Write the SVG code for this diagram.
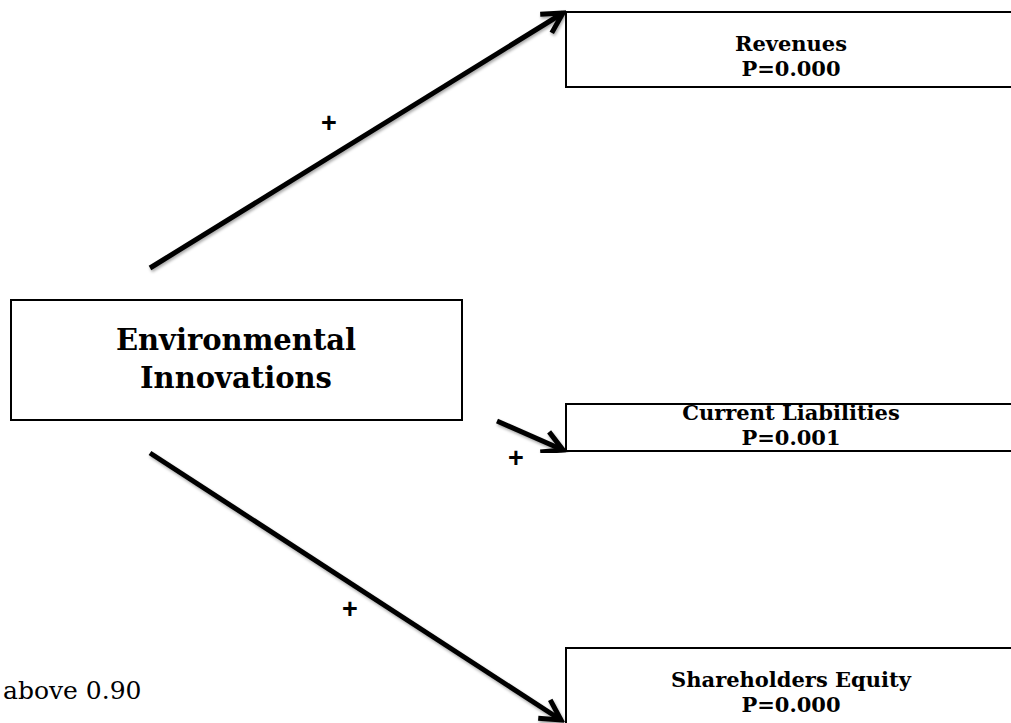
<svg xmlns="http://www.w3.org/2000/svg" width="1011" height="723" viewBox="0 0 1011 723">
  <style>
    .box { fill: #ffffff; stroke: #000000; stroke-width: 2; }
    .lbl { font-family: "DejaVu Serif", "Liberation Serif", serif; font-weight: bold; font-size: 21px; fill: #000000; text-anchor: middle; }
    .title { font-family: "DejaVu Serif", "Liberation Serif", serif; font-weight: bold; font-size: 29px; fill: #000000; text-anchor: middle; }
    .sign { font-family: "Liberation Sans", Arial, sans-serif; font-weight: bold; font-size: 27px; fill: #000000; text-anchor: middle; }
    .note { font-family: "DejaVu Serif", "Liberation Serif", serif; font-size: 25px; fill: #000000; }
    .edge { fill: none; stroke: #000000; stroke-width: 5; marker-end: url(#head); filter: url(#shadow); }
  </style>
  <defs>
    <filter id="shadow" x="-10%" y="-10%" width="120%" height="120%">
      <feDropShadow dx="1" dy="2" stdDeviation="1.5" flood-color="#000000" flood-opacity="0.35"/>
    </filter>
    <marker id="head" markerUnits="userSpaceOnUse" viewBox="-26 -16 30 32" refX="0" refY="0" markerWidth="30" markerHeight="32" orient="auto">
      <path d="M-20,-11 L0,0 L-20,11" fill="none" stroke="#000000" stroke-width="5"/>
    </marker>
  </defs>

  <rect width="1011" height="723" fill="#ffffff"/>

  <!-- connectors -->
  <g id="connectors">
    <line class="edge" x1="150" y1="268" x2="563" y2="13"/>
    <line class="edge" x1="497" y1="421" x2="563" y2="450"/>
    <line class="edge" x1="150" y1="453" x2="561" y2="720"/>
    <text class="sign" x="329" y="132">+</text>
    <text class="sign" x="516" y="467">+</text>
    <text class="sign" x="350" y="618">+</text>
  </g>

  <g id="env-innovations">
    <rect class="box" x="11" y="300" width="451" height="120"/>
    <text class="title" x="236" y="350">Environmental</text>
    <text class="title" x="236" y="388">Innovations</text>
  </g>

  <g id="revenues">
    <rect class="box" x="566" y="12" width="480" height="75"/>
    <text class="lbl" x="791" y="51">Revenues</text>
    <text class="lbl" x="791" y="76">P=0.000</text>
  </g>

  <g id="current-liabilities">
    <rect class="box" x="566" y="404" width="480" height="47"/>
    <text class="lbl" x="791" y="420">Current Liabilities</text>
    <text class="lbl" x="791" y="445">P=0.001</text>
  </g>

  <g id="shareholders-equity">
    <rect class="box" x="566" y="648" width="480" height="90"/>
    <text class="lbl" x="791" y="687">Shareholders Equity</text>
    <text class="lbl" x="791" y="712">P=0.000</text>
  </g>

  <text class="note" x="3" y="699">above 0.90</text>
</svg>
